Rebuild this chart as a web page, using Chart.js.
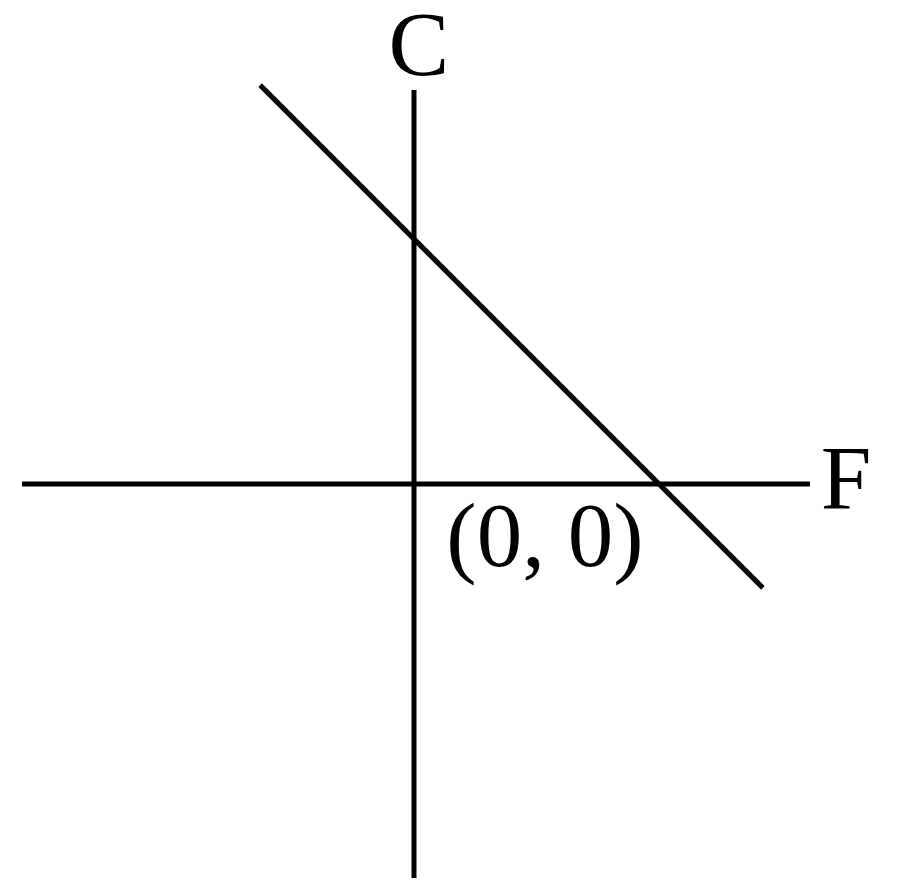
<!DOCTYPE html>
<html lang="en">
<head>
  <meta charset="UTF-8">
  <title>C - F line</title>
  <script src="https://cdn.jsdelivr.net/npm/chart.js"></script>
  <style>
    html, body {
      margin: 0;
      padding: 0;
      background: #fff;
    }
    #wrap {
      width: 900px;
      height: 891px;
      position: relative;
    }
  </style>
</head>
<body>
  <div id="wrap"><canvas id="cf"></canvas></div>

  <script>
    // axes and the line, in chart units (origin = (0, 0))
    const fAxisX = [-4.0, 4.04];
    const fAxisY = [0, 0];
    const cAxisX = [0, 0];
    const cAxisY = [4.02, -4.02];
    const lineX = [-1.57, 3.56];
    const lineY = [4.07, -1.06];
    const axisNames = ['C', 'F'];
    const originLabel = '(0, 0)';

    const pts = (xs, ys) => xs.map((x, i) => ({ x: x, y: ys[i] }));

    const labels = {
      id: 'labels',
      afterDatasetsDraw(chart) {
        const c = chart.ctx;
        const sx = chart.scales.x, sy = chart.scales.y;
        c.save();
        c.fillStyle = '#000';
        c.font = '91px "Liberation Serif", "Times New Roman", serif';
        c.textBaseline = 'alphabetic';
        // C above the top of the vertical axis
        c.textAlign = 'center';
        c.fillText(axisNames[0], sx.getPixelForValue(0.05), sy.getPixelForValue(4.17));
        // F past the right end of the horizontal axis
        c.textAlign = 'left';
        c.fillText(axisNames[1], sx.getPixelForValue(4.15), sy.getPixelForValue(-0.26));
        // origin
        c.fillText(originLabel, sx.getPixelForValue(0.33), sy.getPixelForValue(-0.84));
        c.restore();
      }
    };

    const ds = (data) => ({
      data: data,
      showLine: true,
      borderColor: '#000',
      borderWidth: 5,
      pointRadius: 0,
      fill: false,
      tension: 0
    });

    new Chart(document.getElementById('cf'), {
      type: 'scatter',
      data: {
        datasets: [
          ds(pts(fAxisX, fAxisY)),
          ds(pts(cAxisX, cAxisY)),
          ds(pts(lineX, lineY))
        ]
      },
      options: {
        responsive: true,
        maintainAspectRatio: false,
        animation: false,
        layout: { padding: 0 },
        plugins: {
          legend: { display: false },
          tooltip: { enabled: false }
        },
        scales: {
          x: { type: 'linear', display: false, min: -414 / 98, max: 486 / 98 },
          y: { type: 'linear', display: false, min: -407 / 98, max: 484 / 98 }
        }
      },
      plugins: [labels]
    });
  </script>
</body>
</html>
